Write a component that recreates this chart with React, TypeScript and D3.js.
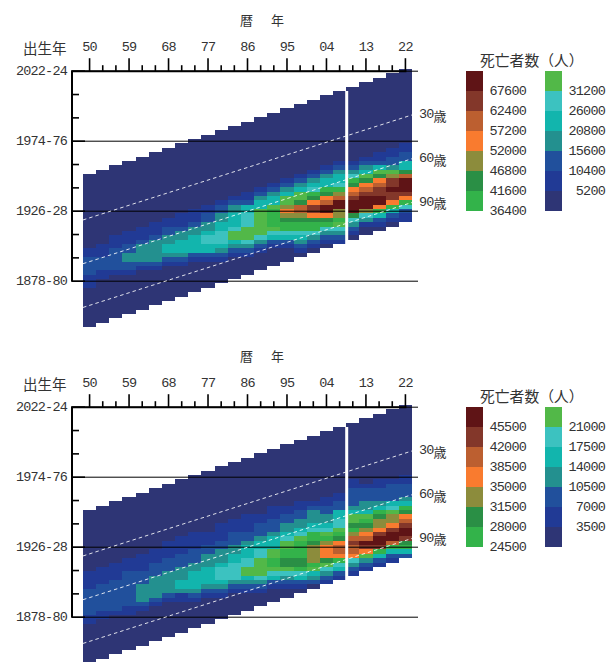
import React from 'react';
import * as d3 from 'd3';

const periods = d3.range(1950, 2023, 3);
const ages = [30, 60, 90];
const cohortTicks = [
  { cohort: 2023, label: '2022-24' },
  { cohort: 1975, label: '1974-76' },
  { cohort: 1927, label: '1926-28' },
  { cohort: 1879, label: '1878-80' },
];

const levelColors = ['#2e3575', '#213a95', '#21509c', '#23908f', '#12b5ad', '#3cc2c0', '#52b848',
  '#33b34a', '#2a8f45', '#8c8c3c', '#f97b2f', '#bc5f30', '#83372a', '#5f1416'];

const LOW = 1; // cells outside the arrays are all below the first class

// deaths in thousands, per period, from first listed cohort row downwards
const firstRowTop = [41, 40, 38, 37, 36, 35, 34, 33, 32, 31, 30, 29, 28, 27, 26, 25, 24, 23, 22, 21, 21, 20, 19, 18, 17];
const deathsTop = [
  [8, 8, 13, 13, 13, 13, 8, 8, 8],
  [8, 8, 8, 13, 13, 13, 8, 8],
  [8, 8, 8, 13, 13, 13, 13, 13, 8],
  [8, 8, 8, 13, 13, 18, 18, 13, 13, 8],
  [8, 8, 8, 13, 18, 18, 18, 18, 13, 8],
  [8, 8, 8, 13, 18, 18, 18, 18, 18, 13, 8],
  [8, 8, 13, 13, 18, 18, 23, 23, 18, 13, 8],
  [8, 8, 8, 13, 18, 18, 23, 23, 23, 18, 13, 8],
  [8, 8, 8, 13, 18, 18, 23, 23, 23, 23, 13, 8],
  [8, 8, 13, 13, 18, 18, 23, 29, 29, 23, 23, 13, 8],
  [8, 13, 13, 18, 18, 23, 23, 29, 29, 29, 23, 18, 13, 8],
  [8, 13, 18, 18, 23, 23, 23, 29, 34, 34, 23, 18, 13, 8],
  [8, 8, 13, 23, 23, 29, 29, 29, 34, 34, 34, 29, 18, 13, 8],
  [8, 13, 18, 23, 23, 34, 34, 34, 34, 34, 34, 29, 18, 13, 8],
  [8, 13, 18, 23, 23, 34, 39, 39, 39, 39, 34, 29, 23, 13, 8],
  [8, 13, 18, 23, 34, 34, 49, 55, 49, 44, 39, 39, 29, 23, 13, 8],
  [8, 13, 18, 23, 34, 34, 44, 60, 60, 49, 44, 39, 39, 29, 23, 18, 13, 8],
  [8, 13, 18, 23, 29, 39, 44, 55, 65, 65, 55, 44, 39, 39, 29, 18, 13, 8],
  [8, 13, 18, 23, 23, 39, 44, 55, 60, 70, 70, 55, 44, 39, 29, 18, 13, 8],
  [8, 13, 18, 23, 23, 29, 39, 49, 60, 70, 70, 49, 49, 39, 34, 29, 18, 13, 8],
  [8, 13, 18, 29, 39, 44, 55, 60, 65, 70, 70, 70, 44, 29, 18, 13, 8],
  [8, 13, 18, 23, 34, 44, 55, 60, 65, 70, 70, 70, 49, 29, 18, 8],
  [8, 8, 13, 23, 34, 44, 55, 60, 65, 65, 70, 70, 55, 39, 23, 13, 8],
  [8, 8, 13, 13, 18, 34, 49, 65, 65, 70, 65, 65, 55, 39, 23, 13, 8],
  [8, 8, 13, 13, 23, 23, 44, 60, 70, 70, 70, 65, 55, 39, 29, 13, 8, 8],
];

const firstRowBottom = [38, 37, 36, 35, 34, 33, 31, 30, 29, 29, 27, 26, 25, 25, 23, 23, 22, 22, 21, 20, 17, 18, 17, 17, 16];
const deathsBottom = [
  [5, 5, 5, 5, 9, 9, 9, 9, 9, 9, 5, 5],
  [5, 5, 5, 5, 9, 9, 9, 9, 9, 9, 5, 5],
  [5, 5, 5, 5, 9, 9, 9, 9, 9, 9, 9, 5],
  [5, 5, 5, 9, 9, 9, 9, 9, 9, 9, 9, 5, 5],
  [5, 5, 5, 5, 9, 9, 9, 12, 12, 12, 12, 9, 5],
  [5, 5, 5, 9, 9, 9, 12, 12, 12, 12, 12, 9, 5],
  [5, 5, 5, 5, 9, 9, 9, 12, 12, 12, 12, 12, 9, 5],
  [5, 5, 5, 5, 9, 9, 9, 12, 12, 12, 16, 16, 12, 5, 5],
  [5, 5, 5, 5, 9, 9, 9, 12, 12, 16, 16, 16, 16, 12, 9, 5],
  [5, 5, 5, 9, 9, 12, 12, 12, 16, 16, 16, 16, 12, 9, 5],
  [5, 5, 5, 5, 9, 9, 12, 12, 12, 16, 19, 19, 19, 16, 12, 9, 5],
  [5, 5, 5, 9, 9, 9, 12, 12, 16, 16, 19, 19, 19, 19, 12, 9, 5],
  [5, 5, 5, 5, 9, 9, 12, 16, 16, 16, 19, 19, 23, 23, 16, 12, 9, 5],
  [5, 5, 9, 9, 9, 12, 16, 16, 19, 19, 23, 23, 23, 23, 19, 12, 9, 5],
  [5, 5, 5, 9, 9, 9, 12, 16, 16, 16, 23, 23, 26, 26, 23, 19, 16, 9, 5],
  [5, 5, 9, 9, 12, 12, 16, 19, 23, 23, 26, 26, 30, 30, 23, 19, 12, 9, 5],
  [5, 5, 9, 9, 12, 12, 16, 19, 23, 26, 26, 26, 26, 30, 30, 26, 19, 16, 9, 5],
  [5, 9, 12, 12, 12, 16, 19, 26, 26, 30, 33, 33, 33, 33, 26, 23, 16, 12, 9],
  [5, 5, 9, 9, 12, 12, 16, 19, 23, 26, 33, 37, 37, 37, 30, 23, 19, 12, 9, 5],
  [5, 5, 9, 9, 16, 16, 19, 19, 23, 26, 30, 37, 40, 40, 37, 26, 19, 16, 9, 5],
  [5, 5, 9, 9, 9, 9, 12, 16, 23, 23, 30, 26, 33, 40, 44, 40, 40, 37, 19, 12, 9, 5],
  [5, 9, 9, 9, 12, 12, 16, 23, 26, 30, 33, 37, 40, 47, 44, 37, 23, 12, 9, 5],
  [5, 5, 9, 9, 9, 12, 16, 26, 30, 33, 33, 37, 44, 47, 47, 44, 26, 16, 9, 5],
  [5, 9, 9, 9, 9, 16, 19, 23, 33, 33, 37, 44, 47, 47, 40, 26, 16, 9, 5],
  [5, 5, 9, 9, 9, 12, 16, 26, 30, 37, 40, 44, 47, 47, 44, 30, 26, 16, 9],
];

const classesTop = d3.range(1, 14).map((d) => d * 5200);
const classesBottom = d3.range(1, 14).map((d) => d * 3500);

const x = d3.scaleBand<number>().domain(periods).range([83, 412]);
const y = d3.scaleLinear().domain([2023, 1879]).range([71.2, 281.2]);
const cohortTickYears = d3.range(2023, 1878, -16);

const mono = '"Liberation Mono", monospace';
const cjk = '"Noto Sans CJK JP", sans-serif';

function NumText(props: any) {
  return <text fontFamily={mono} fontSize={13.5} letterSpacing={-0.8} fill="#333" dominantBaseline="central" {...props} />;
}

function Legend({ classes, color }: { classes: number[]; color: any }) {
  const h = 20;
  const top = 71;
  const desc = [...classes].reverse();
  const swatches = [Infinity, ...desc];
  return (
    <g>
      <text x={480} y={59} fontFamily={cjk} fontSize={14.8} fill="#333" dominantBaseline="central">死亡者数（人）</text>
      {swatches.map((s, i) => {
        const col = i < 7 ? 0 : 1;
        const row = i % 7;
        const sx = col === 0 ? 465.5 : 544.5;
        const label = desc[i];
        return (
          <g key={i}>
            <rect x={sx} y={top + row * h} width={17} height={h} fill={color(label === undefined ? 0 : label)} shapeRendering="crispEdges" />
            {label !== undefined && (
              <NumText x={col === 0 ? 526 : 605} y={top + (row + 1) * h} textAnchor="end">
                {label}
              </NumText>
            )}
          </g>
        );
      })}
    </g>
  );
}

function Panel({ dy, rows, first, classes }: { dy: number; rows: number[][]; first: number[]; classes: number[] }) {
  const color = d3.scaleThreshold<number, string>().domain(classes).range(levelColors);
  const rowH = Math.abs(y(2020) - y(2023));
  const cells = periods.flatMap((p, k) =>
    d3.range(35).map((age) => {
      const row = 24 - k + age;
      const v = rows[k][row - first[k]];
      return { p, row, value: (v === undefined ? LOW : v) * 1000 };
    })
  );
  const x0 = x.range()[0];
  const x1 = x.range()[1];
  return (
    <g transform={`translate(0,${dy})`}>
      <g shapeRendering="crispEdges">
        {cells.map((d) => (
          <rect
            key={`${d.p}-${d.row}`}
            x={x(d.p)}
            y={y(2023 - 3 * d.row) - rowH / 2}
            width={x.bandwidth()}
            height={rowH}
            fill={color(d.value)}
          />
        ))}
      </g>
      {cohortTicks.map((t) => (
        <line key={t.label} x1={72} x2={418} y1={y(t.cohort)} y2={y(t.cohort)} stroke="#000" strokeWidth={1} />
      ))}
      <rect x={345.2} y={91} width={3} height={153} fill="#fff" />
      {ages.map((a) => (
        <g key={a}>
          <line x1={x0} x2={x1} y1={y(1951 - a)} y2={y(2023 - a)} stroke="#fff" strokeOpacity={0.85} strokeWidth={1} strokeDasharray="3.5 3" />
          <text x={419} y={y(2023 - a)} fontFamily={mono} fontSize={13.5} letterSpacing={-0.8} fill="#333" dominantBaseline="central">
            {a}
            <tspan fontFamily={cjk} fontSize={13} letterSpacing={0}>歳</tspan>
          </text>
        </g>
      ))}
      <line x1={71} x2={x(2022)! + x.bandwidth() / 2 + 1} y1={y(2023)} y2={y(2023)} stroke="#000" strokeWidth={2} />
      {periods.map((p, i) => {
        const cx = x(p)! + x.bandwidth() / 2;
        const major = i % 3 === 0;
        return (
          <g key={p}>
            <line x1={cx} x2={cx} y1={y(2023)} y2={y(2023) - (major ? 13 : 6)} stroke="#000" strokeWidth={1.6} />
            {major && (
              <NumText x={cx} y={47} textAnchor="middle">
                {String(p % 100).padStart(2, '0')}
              </NumText>
            )}
          </g>
        );
      })}
      <line x1={72} x2={72} y1={y(2023)} y2={y(1879) + 0.5} stroke="#000" strokeWidth={2} />
      {cohortTickYears.map((c, i) => (
        <line key={c} x1={72} x2={i % 3 === 0 ? 85 : 79} y1={y(c)} y2={y(c)} stroke="#000" strokeWidth={1.6} />
      ))}
      {cohortTicks.map((t) => (
        <NumText key={t.label} x={67} y={y(t.cohort)} textAnchor="end">
          {t.label}
        </NumText>
      ))}
      <text x={23} y={47} fontFamily={cjk} fontSize={14.5} fill="#333" dominantBaseline="central">出生年</text>
      <text x={240} y={19} fontFamily={cjk} fontSize={13} letterSpacing={2.5} fill="#333" dominantBaseline="central" xmlSpace="preserve">暦　年</text>
      <Legend classes={classes} color={color} />
    </g>
  );
}

export default function App() {
  return (
    <svg width={610} height={662} style={{ position: 'absolute', left: 0, top: 0, background: '#fff' }}>
      <Panel dy={0} rows={deathsTop} first={firstRowTop} classes={classesTop} />
      <Panel dy={336} rows={deathsBottom} first={firstRowBottom} classes={classesBottom} />
    </svg>
  );
}
